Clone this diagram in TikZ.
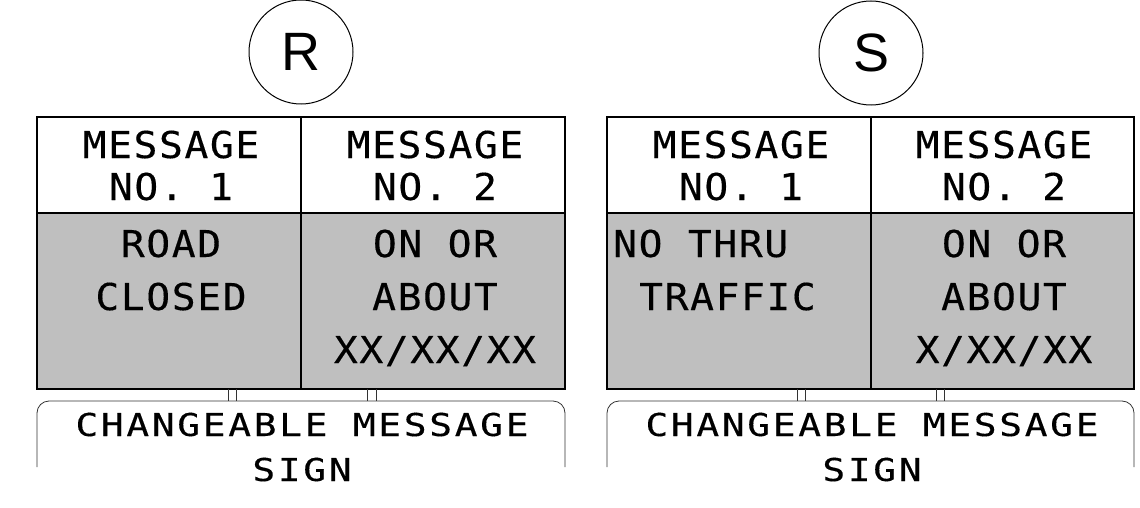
\documentclass[tikz,border=0pt]{standalone}
\usepackage{fontspec}
\usepackage{tikz}
\newfontfamily\cmsfont[FakeStretch=1.07,LetterSpace=4.4,FakeBold=0.3]{DejaVu Sans Mono}
\newfontfamily\cmslabel[FakeStretch=1.2,LetterSpace=8.6,FakeBold=0.3]{DejaVu Sans Mono}
\newfontfamily\letterfont{Liberation Sans}

\begin{document}
\begin{tikzpicture}[x=1pt,y=-1pt,
  msg/.style={anchor=base,inner sep=0pt,font=\cmsfont\fontsize{37}{38}\selectfont},
  lbl/.style={anchor=base,inner sep=0pt,font=\cmslabel\fontsize{31.5}{32}\selectfont},
  panel/.style={draw,line width=1.5pt},
  post/.style={draw,line width=0.8pt,black!80}]
\useasboundingbox (0,0) rectangle (1140,508);

% left sign
\node [circle,draw,line width=1pt,minimum size=104pt,inner sep=0pt,font=\letterfont\fontsize{54}{54}\selectfont] (r) at (301,52) {R};
\fill [white] (37,117) rectangle (565,213);
\fill [black!25] (37,213) rectangle (565,389);
\draw [panel] (37,117) rectangle (565,389);
\draw [panel] (37,213) -- (565,213);
\draw [panel] (301,117) -- (301,389);
\node [msg] (r1a) at (171,158) {MESSAGE};
\node [msg] (r1b) at (171,200) {NO. 1};
\node [msg] (r2a) at (435,158) {MESSAGE};
\node [msg] (r2b) at (435,200) {NO. 2};
\node [msg] (r1c) at (171,257) {ROAD};
\node [msg] (r1d) at (171,310) {CLOSED};
\node [msg] (r2c) at (435,257) {ON OR};
\node [msg] (r2d) at (435,310) {ABOUT};
\node [msg] (r2e) at (435,363) {XX/XX/XX};
\foreach \px in {228,236,367,376}
  \draw [post] (\px,389) -- (\px,401);
\draw [post,rounded corners=12pt] (37,467) -- (37,401) -- (565,401) -- (565,467);
\node [lbl] (rl1) at (302,436) {CHANGEABLE MESSAGE};
\node [lbl] (rl2) at (302,481) {SIGN};

% right sign
\node [circle,draw,line width=1pt,minimum size=104pt,inner sep=0pt,font=\letterfont\fontsize{54}{54}\selectfont] (s) at (871,53) {S};
\fill [white] (607,117) rectangle (1134,213);
\fill [black!25] (607,213) rectangle (1134,389);
\draw [panel] (607,117) rectangle (1134,389);
\draw [panel] (607,213) -- (1134,213);
\draw [panel] (871,117) -- (871,389);
\node [msg] (s1a) at (741,158) {MESSAGE};
\node [msg] (s1b) at (741,200) {NO. 1};
\node [msg] (s2a) at (1004,158) {MESSAGE};
\node [msg] (s2b) at (1004,200) {NO. 2};
\node [msg,anchor=base west] (s1c) at (613,257) {NO THRU};
\node [msg,anchor=base west] (s1d) at (639,310) {TRAFFIC};
\node [msg] (s2c) at (1004,257) {ON OR};
\node [msg] (s2d) at (1004,310) {ABOUT};
\node [msg] (s2e) at (1004,363) {X/XX/XX};
\foreach \px in {797,805,936,944}
  \draw [post] (\px,389) -- (\px,401);
\draw [post,rounded corners=12pt] (607,467) -- (607,401) -- (1134,401) -- (1134,467);
\node [lbl] (sl1) at (872,436) {CHANGEABLE MESSAGE};
\node [lbl] (sl2) at (872,481) {SIGN};
\end{tikzpicture}
\end{document}
